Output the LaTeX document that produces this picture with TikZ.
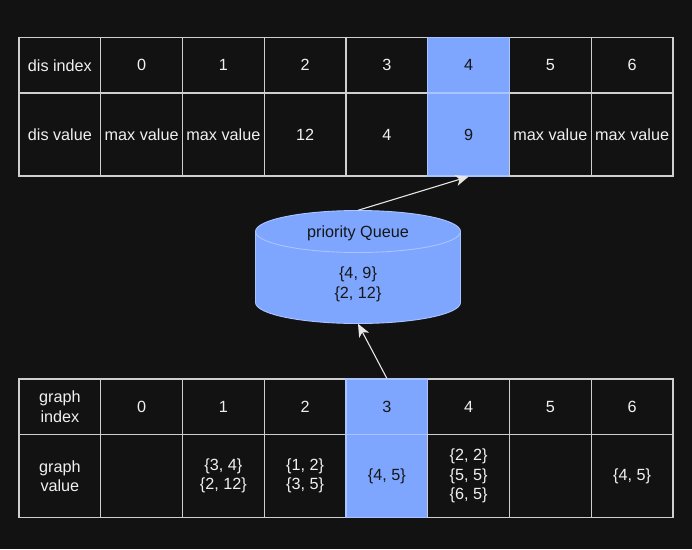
\documentclass[tikz,border=0pt]{standalone}
\usepackage{fontspec}
\setmainfont{Liberation Sans}
\usetikzlibrary{arrows.meta}
\definecolor{bg}{HTML}{121212}
\definecolor{grid}{HTML}{CFCFCF}
\definecolor{hl}{HTML}{7EA6FF}
\definecolor{hlline}{HTML}{A9C4FF}
\definecolor{lighttext}{HTML}{F0F0F0}
\definecolor{darktext}{HTML}{161616}
\definecolor{arr}{HTML}{E6E6E6}
\tikzset{
  cellbox/.style={draw=grid, line width=1.2pt, fill=bg, text=lighttext, rectangle, inner sep=0pt,
    minimum width=81.75pt, align=center, font=\fontsize{16.2}{19.5}\selectfont},
  hdr/.style={cellbox, minimum height=55.5pt},
  val/.style={cellbox, minimum height=83pt},
  hlcell/.style={fill=hl, draw=hlline, text=darktext},
  conn/.style={draw=arr, line width=1.1pt, -{Stealth[length=13pt,width=11pt,inset=3.5pt]}, arr},
  lbl/.style={text=darktext, font=\fontsize{16.2}{19.5}\selectfont, inner sep=0pt, align=center}
}
\begin{document}
\begin{tikzpicture}[x=1pt,y=-1pt]
\fill[bg] (0,0) rectangle (692,549);
\useasboundingbox (0,0) rectangle (692,549);
% top table
\node[hdr] (di) at (59.875,65.25) {dis index};
\node[val] (dv) at (59.875,134.5) {dis value};
\foreach \i/\t in {0/0,1/1,2/2,3/3,5/5,6/6}{
  \node[hdr] (di\i) at ({19+81.75*(\i+1)+40.875},65.25) {\t};
}
\node[hdr,hlcell] (di4) at ({19+81.75*5+40.875},65.25) {4};
\node[val] (dv0) at ({19+81.75*1+40.875},134.5) {max value};
\node[val] (dv1) at ({19+81.75*2+40.875},134.5) {max value};
\node[val] (dv2) at ({19+81.75*3+40.875},134.5) {12};
\node[val] (dv3) at ({19+81.75*4+40.875},134.5) {4};
\node[val,hlcell] (dv4) at ({19+81.75*5+40.875},134.5) {9};
\node[val] (dv5) at ({19+81.75*6+40.875},134.5) {max value};
\node[val] (dv6) at ({19+81.75*7+40.875},134.5) {max value};
% bottom table
\node[hdr] (gi) at (59.875,406.75) {graph\\index};
\node[val] (gv) at (59.875,476) {graph\\value};
\foreach \i/\t in {0/0,1/1,2/2,4/4,5/5,6/6}{
  \node[hdr] (gi\i) at ({19+81.75*(\i+1)+40.875},406.75) {\t};
}
\node[hdr,hlcell] (gi3) at ({19+81.75*4+40.875},406.75) {3};
\node[val] (gv0) at ({19+81.75*1+40.875},476) {};
\node[val] (gv1) at ({19+81.75*2+40.875},476) {\{3, 4\}\\\{2, 12\}};
\node[val] (gv2) at ({19+81.75*3+40.875},476) {\{1, 2\}\\\{3, 5\}};
\node[val,hlcell] (gv3) at ({19+81.75*4+40.875},476) {\{4, 5\}};
\node[val] (gv4) at ({19+81.75*5+40.875},476) {\{2, 2\}\\\{5, 5\}\\\{6, 5\}};
\node[val] (gv5) at ({19+81.75*6+40.875},476) {};
\node[val] (gv6) at ({19+81.75*7+40.875},476) {\{4, 5\}};
% cylinder
\filldraw[fill=hl, draw=hlline, line width=0.9pt]
  (255.5,231.5) arc[start angle=180, end angle=360, x radius=102.5, y radius=21]
  -- (460.5,302.5) arc[start angle=0, end angle=180, x radius=102.5, y radius=21] -- cycle;
\draw[hlline, line width=0.9pt] (255.5,231.5) arc[start angle=180, end angle=0, x radius=102.5, y radius=21];
\node[minimum width=205pt, minimum height=113pt, inner sep=0pt] (pq) at (358,267) {};
\node[lbl] (pqt) at (358,233.5) {priority Queue};
\node[lbl] (pqv) at (358,284.5) {\{4, 9\}\\\{2, 12\}};
% connectors
\draw[conn] (pq.north) -- (dv4.south);
\draw[conn] (gi3.north) -- (pq.south);
\end{tikzpicture}
\end{document}
